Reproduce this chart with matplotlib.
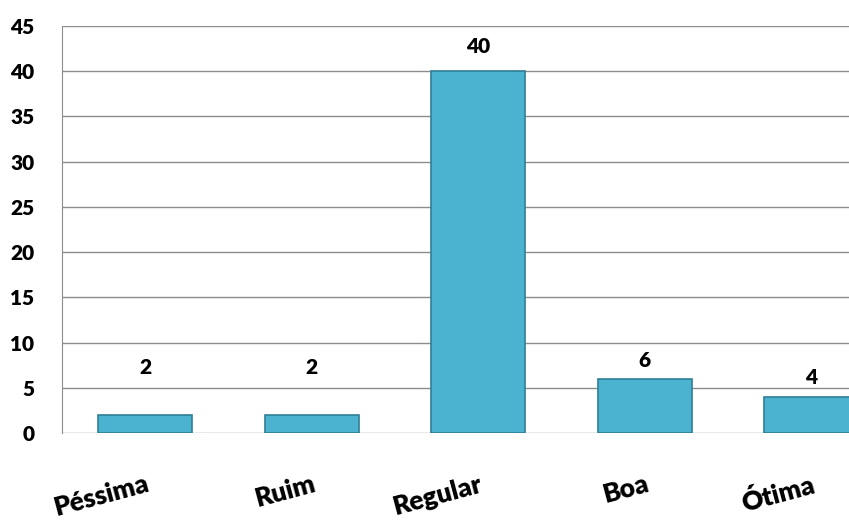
import matplotlib
matplotlib.use("Agg")
import matplotlib.pyplot as plt

categories = ["Péssima", "Ruim", "Regular", "Boa", "Ótima"]
values = [2, 2, 40, 6, 4]
label_offsets_px = [47, 47, 25, 18, 19]
yticks = [0, 5, 10, 15, 20, 25, 30, 35, 40, 45]

plt.rcParams['font.family'] = ['Lato', 'DejaVu Sans']
W, H = 849, 521
fig = plt.figure(figsize=(W/100, H/100), dpi=100)
left, right_px = 62, 62 + 166.5*5
bottom, top = 433, 26
ax = fig.add_axes([left/W, (H-bottom)/H, (right_px-left)/W, (bottom-top)/H])
ax.set_xlim(0, 5)
ax.set_ylim(0, 45)
x = [i + 0.5 for i in range(len(categories))]
ax.bar(x, values, width=0.565, color="#4bb2d0", edgecolor="#2f7f96", linewidth=1.2, zorder=3)
ax.set_yticks(yticks)
ax.yaxis.grid(True, color="#8c8c8c", linewidth=1.0, zorder=0)
for s in ["top", "right", "bottom"]:
    ax.spines[s].set_visible(False)
ax.spines["left"].set_color("#8c8c8c")
ax.tick_params(axis="both", length=0)
ax.tick_params(axis="y", pad=20)
ax.set_yticklabels([str(t) for t in yticks], fontweight="heavy", fontsize=15)
ax.set_xticks(x)
ax.set_xticklabels(categories, rotation=15, ha="right", va="top", rotation_mode="anchor",
                   fontsize=19, fontweight="heavy")
ax.tick_params(axis="x", pad=28)
for xi, v, off in zip(x, values, label_offsets_px):
    ax.annotate(str(v), (xi, v), xytext=(0, off*0.72), textcoords="offset points",
                ha="center", va="center", fontsize=15, fontweight="heavy")
fig.savefig("out.png", dpi=100)
